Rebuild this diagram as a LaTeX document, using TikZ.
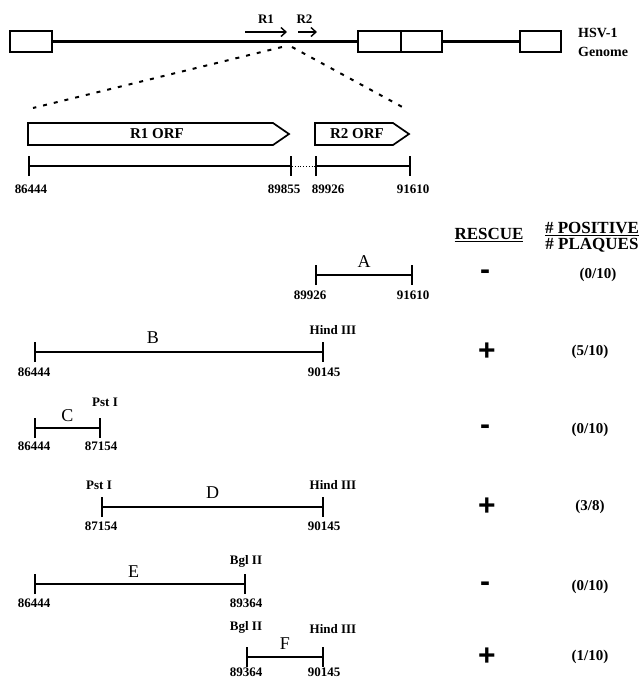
\documentclass[tikz,border=0pt]{standalone}
\usepackage{fontspec}
\setmainfont{Liberation Serif}
\newfontfamily\signfont{Liberation Sans}
\usetikzlibrary{arrows.meta,positioning}

\tikzset{
  gbox/.style={draw, line width=1.9pt, inner sep=0pt, minimum height=21pt},
  gline/.style={line width=2.2pt},
  orient/.style={line width=1.1pt, -{Straight Barb[length=5pt,width=9pt,line width=1.4pt]}},
  zoomline/.style={line width=2pt, dash pattern=on 4pt off 7pt},
  orf/.style={draw, line width=1.7pt},
  frag/.style={line width=2pt, {Bar[width=20pt,line width=1.8pt]}-{Bar[width=20pt,line width=1.8pt]}},
  lbl/.style={font=\bfseries\fontsize{13}{13}\selectfont, inner sep=0pt},
  letter/.style={font=\fontsize{18}{18}\selectfont, inner sep=0pt},
  head/.style={font=\bfseries\fontsize{17}{17}\selectfont, inner sep=0pt},
  sign/.style={font=\signfont\bfseries\fontsize{30}{30}\selectfont, inner sep=0pt},
  ratio/.style={font=\bfseries\fontsize{15}{15}\selectfont, inner sep=0pt},
}

\begin{document}
\begin{tikzpicture}[x=1pt,y=-1pt]
		\useasboundingbox (0,0) rectangle (640,678);
		%genome
		\node[gbox, minimum width=42pt] (gl) at (31,41.5) {};
		\node[gbox, minimum width=43pt] (gm1) at (379.5,41.5) {};
		\node[gbox, minimum width=41pt] (gm2) at (421.5,41.5) {};
		\node[gbox, minimum width=41pt] (gr) at (540.5,41.5) {};
		\draw[gline] (gl.east) -- (gm1.west);
		\draw[gline] (gm2.east) -- (gr.west);
		\node[font=\bfseries\fontsize{14}{19}\selectfont, align=left, anchor=west, inner sep=0pt] (hsv) at (578,42.5) {HSV-1\\Genome};
		%R1 R2
		\coordinate (r1a) at (245,32);
		\coordinate (r1b) at (287,32);
		\coordinate (r2a) at (298,32);
		\coordinate (r2b) at (317,32);
		\draw[orient] (r1a) -- node[lbl, above=8pt] (r1) {R1} (r1b);
		\draw[orient] (r2a) -- node[lbl, above=8pt, xshift=-3pt] (r2) {R2} (r2b);
		%zoom
		\coordinate (zl) at (282,47);
		\coordinate (zr) at (292,47);
		\coordinate (zl2) at (33,108);
		\coordinate (zr2) at (406,109);
		\draw[zoomline] (zl) -- (zl2);
		\draw[zoomline] (zr) -- (zr2);
		%ORFs
		\draw[orf] (28,123) -- (273,123) -- (289,134) -- (273,145) -- (28,145) -- cycle;
		\node[lbl, font=\bfseries\fontsize{15}{15}\selectfont] (r1orf) at (157,134) {R1 ORF};
		\draw[orf] (315,123) -- (393,123) -- (409,134) -- (393,145) -- (315,145) -- cycle;
		\node[lbl, font=\bfseries\fontsize{15}{15}\selectfont] (r2orf) at (357,134) {R2 ORF};
		%scale
		\coordinate (s1) at (28,166);
		\coordinate (s2) at (292,166);
		\coordinate (s3) at (315,166);
		\coordinate (s4) at (411,166);
		\draw[frag] (s1) -- (s2);
		\draw[dotted, line width=0.8pt] (s2) -- (s3);
		\draw[frag] (s3) -- (s4);
		\node[lbl, below=18.5pt of s1, xshift=3pt] (n1) {86444};
		\node[lbl, below=18.5pt of s2, xshift=-8pt] (n2) {89855};
		\node[lbl, below=18.5pt of s3, xshift=13pt] (n3) {89926};
		\node[lbl, below=18.5pt of s4, xshift=2pt] (n4) {91610};
		%headers
		\node[head] (rescue) at (489,235) {\underline{RESCUE}};
		\node[head, align=center, font=\bfseries\fontsize{17}{16}\selectfont] (ratiohead) at (592,237) {\underline{\# POSITIVE}\\\# PLAQUES};
		%A
		\coordinate (A1) at (315,275);
		\coordinate (A2) at (413,275);
		\draw[frag] (A1) -- node[letter, above=7pt] (la) {A} (A2);
		\node[lbl, below=15.5pt of A1, xshift=-5pt] (a1) {89926};
		\node[lbl, below=15.5pt of A2] (a2) {91610};
		\node[sign] (ra) at (485,275) {-};
		\node[ratio] (pa) at (598,275) {(0/10)};
		%B
		\coordinate (B1) at (34,352);
		\coordinate (B2) at (324,352);
		\draw[frag] (B1) -- node[letter, above=7pt, pos=0.41] (lb) {B} (B2);
		\node[lbl, below=15.5pt of B1] (b1) {86444};
		\node[lbl, below=15.5pt of B2] (b2) {90145};
		\node[lbl, above=17.5pt of B2, xshift=9pt] (eb) {Hind III};
		\node[sign] (rb) at (487,352) {+};
		\node[ratio] (pb) at (590,352) {(5/10)};
		%C
		\coordinate (C1) at (34,428);
		\coordinate (C2) at (101,428);
		\draw[frag] (C1) -- node[letter, above=5pt] (lc) {C} (C2);
		\node[lbl, below=14pt of C1] (c1) {86444};
		\node[lbl, below=14pt of C2] (c2) {87154};
		\node[lbl, above=21.5pt of C2, xshift=4pt] (ec) {Pst I};
		\node[sign] (rc) at (485,430) {-};
		\node[ratio] (pc) at (590,430) {(0/10)};
		%D
		\coordinate (D1) at (101,507);
		\coordinate (D2) at (324,507);
		\draw[frag] (D1) -- node[letter, above=7pt] (ld) {D} (D2);
		\node[lbl, below=15pt of D1] (d1) {87154};
		\node[lbl, below=15pt of D2] (d2) {90145};
		\node[lbl, above=17.5pt of D1, xshift=-2pt] (ed1) {Pst I};
		\node[lbl, above=17.5pt of D2, xshift=9pt] (ed2) {Hind III};
		\node[sign] (rd) at (487,507) {+};
		\node[ratio] (pd) at (590,507) {(3/8)};
		%E
		\coordinate (E1) at (34,584);
		\coordinate (E2) at (246,584);
		\draw[frag] (E1) -- node[letter, above=6pt, pos=0.47] (le) {E} (E2);
		\node[lbl, below=15pt of E1] (e1) {86444};
		\node[lbl, below=15pt of E2] (e2) {89364};
		\node[lbl, above=16.5pt of E2] (ee) {Bgl II};
		\node[sign] (re) at (485,587) {-};
		\node[ratio] (pe) at (590,587) {(0/10)};
		%F
		\coordinate (F1) at (246,657);
		\coordinate (F2) at (324,657);
		\draw[frag] (F1) -- node[letter, above=7pt] (lf) {F} (F2);
		\node[lbl, below=10.5pt of F1] (f1) {89364};
		\node[lbl, below=10.5pt of F2] (f2) {90145};
		\node[lbl, above=23.5pt of F1] (ef1) {Bgl II};
		\node[lbl, above=23.5pt of F2, xshift=9pt] (ef2) {Hind III};
		\node[sign] (rf) at (487,657) {+};
		\node[ratio] (pf) at (590,657) {(1/10)};
	\end{tikzpicture}
\end{document}
